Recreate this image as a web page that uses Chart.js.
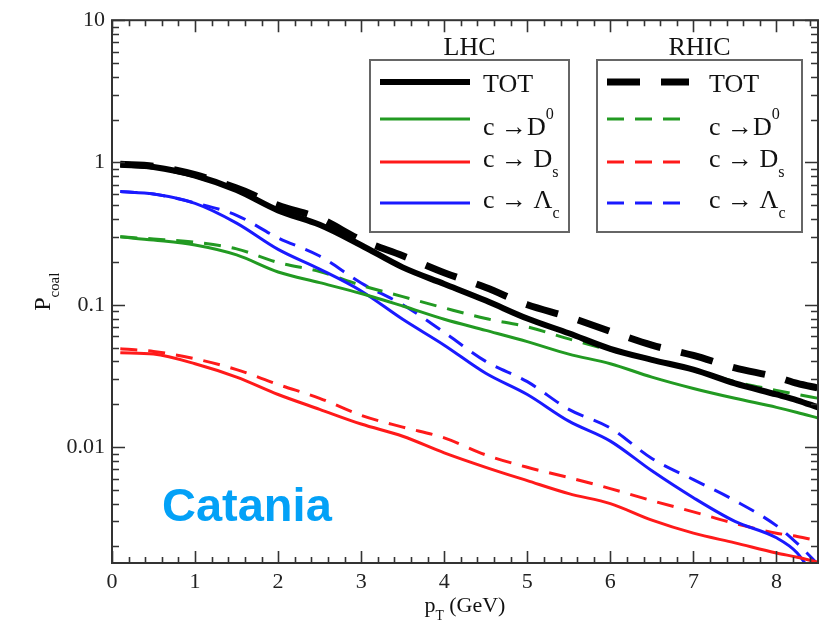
<!DOCTYPE html>
<html>
<head>
<meta charset="utf-8">
<script src="https://cdn.jsdelivr.net/npm/chart.js@4.4.1/dist/chart.umd.min.js"></script>
<style>
  body { margin: 0; background: #fff; }
  canvas { display: block; }
</style>
</head>
<body>
<canvas id="coalChart" width="825" height="624"></canvas>
<script>
// pT grid (GeV) shared by all curves
const pT = [0.1, 0.5, 1, 1.5, 2, 2.5, 3, 3.5, 4, 4.5, 5, 5.5, 6, 6.5, 7, 7.5, 8, 8.25, 8.5];

// LHC (solid)
const totLHC = [0.97, 0.93, 0.81, 0.64, 0.46, 0.365, 0.262, 0.183, 0.14, 0.107, 0.08, 0.063, 0.049, 0.041, 0.035, 0.028, 0.0234, 0.0213, 0.019];
const d0LHC  = [0.30, 0.285, 0.263, 0.224, 0.17, 0.143, 0.12, 0.098, 0.079, 0.066, 0.055, 0.045, 0.0385, 0.031, 0.0258, 0.022, 0.019, 0.0175, 0.016];
const dsLHC  = [0.046, 0.045, 0.0385, 0.031, 0.0234, 0.0184, 0.0145, 0.0119, 0.0091, 0.0072, 0.0058, 0.0047, 0.0040, 0.00306, 0.00248, 0.00212, 0.0018, 0.00168, 0.00155];
const lcLHC  = [0.625, 0.60, 0.516, 0.375, 0.245, 0.178, 0.125, 0.079, 0.052, 0.033, 0.0234, 0.0152, 0.011, 0.0068, 0.0044, 0.0030, 0.0023, 0.0018, 0.0011];

// RHIC (dashed)
const totRHIC = [0.97, 0.94, 0.82, 0.66, 0.50, 0.405, 0.285, 0.221, 0.168, 0.132, 0.10, 0.082, 0.065, 0.052, 0.044, 0.036, 0.031, 0.028, 0.026];
const d0RHIC  = [0.30, 0.29, 0.275, 0.247, 0.198, 0.171, 0.137, 0.114, 0.095, 0.08, 0.07, 0.0575, 0.048, 0.0417, 0.035, 0.0288, 0.025, 0.0234, 0.022];
const dsRHIC  = [0.049, 0.047, 0.0417, 0.035, 0.0275, 0.022, 0.0167, 0.0138, 0.0116, 0.0088, 0.0072, 0.0061, 0.0051, 0.0042, 0.0035, 0.0029, 0.00248, 0.00235, 0.00219];
const lcRHIC  = [0.625, 0.60, 0.52, 0.425, 0.295, 0.22, 0.142, 0.10, 0.064, 0.040, 0.0288, 0.0184, 0.0136, 0.0083, 0.0059, 0.0042, 0.0028, 0.0021, 0.0015];

// axes
const xTickVals = [0, 1, 2, 3, 4, 5, 6, 7, 8];
const yTickVals = [0.01, 0.1, 1, 10];
const yTickLabels = ['0.01', '0.1', '1', '10'];

const GREEN = '#229a22';
const RED = '#ff1a1a';
const BLUE = '#1a1aff';
const serif = '"Liberation Serif", "DejaVu Serif", serif';

function pts(vals) {
  return vals.map((v, i) => ({ x: pT[i], y: v }));
}

function line(data, color, width, dash) {
  return {
    data: pts(data),
    borderColor: color,
    borderWidth: width,
    borderDash: dash,
    pointRadius: 0,
    fill: false,
    cubicInterpolationMode: 'monotone'
  };
}

const datasets = [
  line(totLHC, '#000', 6, []),
  line(d0LHC, GREEN, 3, []),
  line(dsLHC, RED, 3, []),
  line(lcLHC, BLUE, 3, []),
  line(totRHIC, '#000', 7, [33, 21]),
  line(d0RHIC, GREEN, 3, [17, 11]),
  line(dsRHIC, RED, 3, [17, 11]),
  line(lcRHIC, BLUE, 3, [17, 11])
];

// frame with inward ticks on all four sides
const framePlugin = {
  id: 'frame',
  afterDatasetsDraw(chart) {
    const ctx = chart.ctx;
    const a = chart.chartArea;
    const xs = chart.scales.x, ys = chart.scales.y;
    ctx.save();
    ctx.strokeStyle = '#333';
    ctx.lineWidth = 2;
    ctx.strokeRect(a.left, a.top, a.right - a.left, a.bottom - a.top);
    ctx.lineWidth = 1.6;
    ctx.beginPath();
    for (let i = 0; i <= 42; i++) {
      const v = i / 5;
      const px = Math.round(xs.getPixelForValue(v)) + 0.5;
      const len = (i % 5 === 0) ? 12 : 6;
      ctx.moveTo(px, a.bottom); ctx.lineTo(px, a.bottom - len);
      ctx.moveTo(px, a.top); ctx.lineTo(px, a.top + len);
    }
    [0.001, 0.01, 0.1, 1].forEach(d => {
      for (let k = 1; k <= 9; k++) {
        const v = k * d;
        if (v < ys.min || v > ys.max) continue;
        const py = Math.round(ys.getPixelForValue(v)) + 0.5;
        const len = (k === 1) ? 13 : 7;
        ctx.moveTo(a.left, py); ctx.lineTo(a.left + len, py);
        ctx.moveTo(a.right, py); ctx.lineTo(a.right - len, py);
      }
    });
    const p10 = Math.round(ys.getPixelForValue(10)) + 0.5;
    ctx.moveTo(a.left, p10); ctx.lineTo(a.left + 13, p10);
    ctx.moveTo(a.right, p10); ctx.lineTo(a.right - 13, p10);
    ctx.stroke();
    ctx.restore();
  }
};

// text with sub/superscripts: parts = [[text, mode]], mode '' | 'sub' | 'sup'
function richText(ctx, parts, x, y, size) {
  let cx = x;
  parts.forEach(([t, mode]) => {
    let s = size, dy = 0;
    if (mode === 'sub') { s = size * 0.62; dy = size * 0.38; }
    if (mode === 'sup') { s = size * 0.62; dy = -size * 0.62; }
    ctx.font = s + 'px ' + serif;
    ctx.fillText(t, cx, y + dy);
    cx += ctx.measureText(t).width;
  });
}

const legendRows = [
  [['TOT', '']],
  [['c \u2192D', ''], ['0', 'sup']],
  [['c \u2192 D', ''], ['s', 'sub']],
  [['c \u2192 \u039B', ''], ['c', 'sub']]
];
const legendRowY = [82, 119, 162, 203];
const legendTextY = [92, 135, 167, 208];

const boxesPlugin = {
  id: 'boxes',
  afterDraw(chart) {
    const ctx = chart.ctx;
    const boxes = [
      { title: 'LHC', x: 370, y: 60, w: 199, h: 172, l0: 380, l1: 470, tx: 483, first: 0 },
      { title: 'RHIC', x: 597, y: 60, w: 205, h: 172, l0: 607, l1: 689, tx: 709, first: 4 }
    ];
    ctx.save();
    boxes.forEach(b => {
      ctx.fillStyle = '#fff';
      ctx.fillRect(b.x, b.y, b.w, b.h);
      ctx.strokeStyle = '#666';
      ctx.lineWidth = 2;
      ctx.strokeRect(b.x, b.y, b.w, b.h);
      ctx.fillStyle = '#111';
      ctx.font = '26px ' + serif;
      ctx.textAlign = 'center';
      ctx.textBaseline = 'alphabetic';
      ctx.fillText(b.title, b.x + b.w / 2, 55);
      ctx.textAlign = 'left';
      legendRows.forEach((row, i) => {
        const ds = chart.data.datasets[b.first + i];
        ctx.strokeStyle = ds.borderColor;
        ctx.lineWidth = ds.borderWidth;
        ctx.setLineDash(ds.borderDash);
        ctx.beginPath();
        ctx.moveTo(b.l0, legendRowY[i]);
        ctx.lineTo(b.l1, legendRowY[i]);
        ctx.stroke();
        ctx.setLineDash([]);
        ctx.fillStyle = '#111';
        richText(ctx, row, b.tx, legendTextY[i], 26);
      });
    });

    // axis titles
    const a = chart.chartArea;
    ctx.fillStyle = '#111';
    ctx.textAlign = 'left';
    ctx.font = '22px ' + serif;
    const w1 = ctx.measureText('p').width;
    ctx.font = '14px ' + serif;
    const w2 = ctx.measureText('T').width;
    ctx.font = '22px ' + serif;
    const w3 = ctx.measureText(' (GeV)').width;
    const xStart = (a.left + a.right) / 2 - (w1 + w2 + w3) / 2;
    richText(ctx, [['p', ''], ['T', 'sub'], [' (GeV)', '']], xStart, 612, 22);

    ctx.translate(50, (a.top + a.bottom) / 2);
    ctx.rotate(-Math.PI / 2);
    ctx.font = '24px ' + serif;
    const pw = ctx.measureText('P').width;
    ctx.font = Math.round(24 * 0.62) + 'px ' + serif;
    const cw = ctx.measureText('coal').width;
    richText(ctx, [['P', ''], ['coal', 'sub']], -(pw + cw) / 2, 0, 24);
    ctx.setTransform(1, 0, 0, 1, 0, 0);

    // Catania label
    ctx.fillStyle = '#03a1f7';
    ctx.font = 'bold 47px "Liberation Sans", Arial, sans-serif';
    ctx.fillText('Catania', 162, 521);
    ctx.restore();
  }
};

new Chart(document.getElementById('coalChart').getContext('2d'), {
  type: 'line',
  data: { datasets: datasets },
  options: {
    responsive: false,
    animation: false,
    layout: { padding: { top: 15, right: 7, left: 0, bottom: 0 } },
    plugins: { legend: { display: false }, tooltip: { enabled: false } },
    scales: {
      x: {
        type: 'linear',
        min: 0,
        max: 8.5,
        afterBuildTicks: s => { s.ticks = xTickVals.map(v => ({ value: v })); },
        afterFit: s => { s.height = 61; },
        grid: { display: false, drawTicks: false },
        border: { display: false },
        ticks: { color: '#222', font: { family: serif, size: 22 }, padding: 6, maxRotation: 0, autoSkip: false }
      },
      y: {
        type: 'logarithmic',
        min: 0.00153,
        max: 10,
        afterBuildTicks: s => { s.ticks = yTickVals.map(v => ({ value: v })); },
        afterFit: s => { s.width = 112; },
        grid: { display: false, drawTicks: false },
        border: { display: false },
        ticks: {
          color: '#222',
          font: { family: serif, size: 22 },
          padding: 7,
          autoSkip: false,
          callback: (v) => {
            const i = yTickVals.indexOf(v);
            return i >= 0 ? yTickLabels[i] : '';
          }
        }
      }
    }
  },
  plugins: [framePlugin, boxesPlugin]
});
</script>
</body>
</html>
